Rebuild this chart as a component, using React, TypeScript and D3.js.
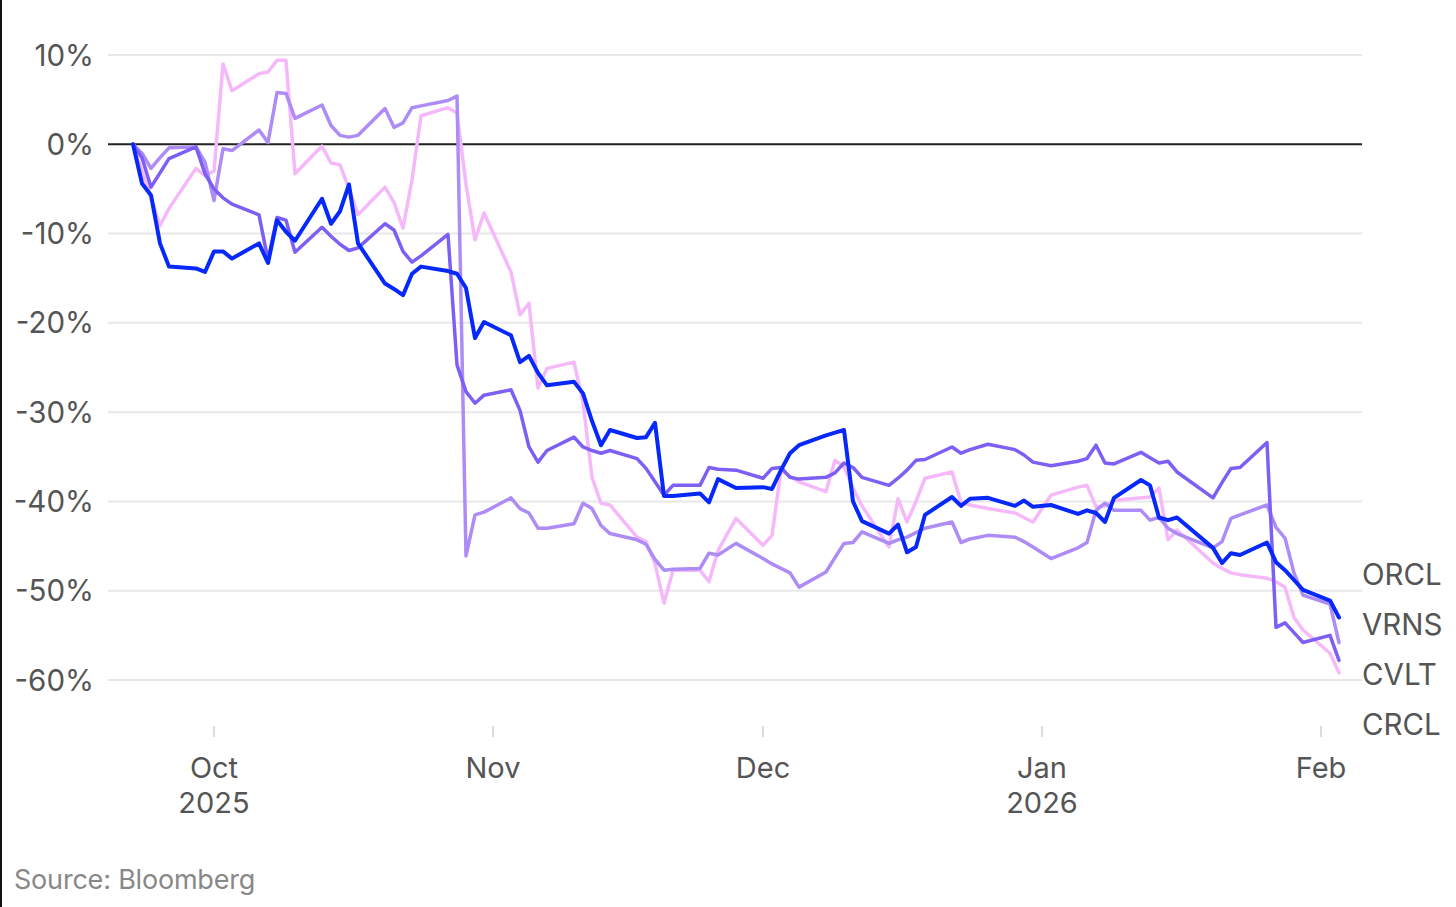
import React from "react";
import * as d3 from "d3";

const dates: string[] = [
  "2025-09-22","2025-09-23","2025-09-24","2025-09-25","2025-09-26","2025-09-29","2025-09-30",
  "2025-10-01","2025-10-02","2025-10-03","2025-10-06","2025-10-07","2025-10-08","2025-10-09","2025-10-10",
  "2025-10-13","2025-10-14","2025-10-15","2025-10-16","2025-10-17","2025-10-20","2025-10-21","2025-10-22",
  "2025-10-23","2025-10-24","2025-10-27","2025-10-28","2025-10-29","2025-10-30","2025-10-31",
  "2025-11-03","2025-11-04","2025-11-05","2025-11-06","2025-11-07","2025-11-10","2025-11-11","2025-11-12",
  "2025-11-13","2025-11-14","2025-11-17","2025-11-18","2025-11-19","2025-11-20","2025-11-21","2025-11-24",
  "2025-11-25","2025-11-26","2025-11-28",
  "2025-12-01","2025-12-02","2025-12-03","2025-12-04","2025-12-05","2025-12-08","2025-12-09","2025-12-10",
  "2025-12-11","2025-12-12","2025-12-15","2025-12-16","2025-12-17","2025-12-18","2025-12-19","2025-12-22",
  "2025-12-23","2025-12-24","2025-12-26","2025-12-29","2025-12-30","2025-12-31",
  "2026-01-02","2026-01-05","2026-01-06","2026-01-07","2026-01-08","2026-01-09","2026-01-12","2026-01-13",
  "2026-01-14","2026-01-15","2026-01-16","2026-01-20","2026-01-21","2026-01-22","2026-01-23","2026-01-26",
  "2026-01-27","2026-01-28","2026-01-29","2026-01-30",
  "2026-02-02","2026-02-03",
];

const orcl: number[] = [
  0, -4.4, -5.7, -11.1, -13.7, -13.9, -14.3,
  -12, -12, -12.8, -11.1, -13.3, -8.5, -9.8, -10.8,
  -6.1, -8.9, -7.5, -4.5, -11.1, -15.6, -16.2, -16.9,
  -14.5, -13.7, -14.2, -14.5, -16.1, -21.7, -19.9,
  -21.4, -24.4, -23.7, -25.6, -27.0, -26.6, -27.9, -31,
  -33.7, -32.0, -32.9, -32.8, -31.2, -39.4, -39.4, -39.1,
  -40.1, -37.5, -38.5,
  -38.4, -38.6, -36.5, -34.6, -33.7, -32.6, -32.3, -32.0,
  -40.0, -42.2, -43.6, -42.6, -45.7, -45.1, -41.5, -39.5,
  -40.5, -39.7, -39.6, -40.5, -39.9, -40.6,
  -40.4, -41.4, -41.0, -41.3, -42.3, -39.6, -37.6, -38.2,
  -41.8, -42.1, -41.8, -45.2, -46.9, -45.8, -46.0, -44.6,
  -46.8, -47.7, -48.8, -49.9,
  -51.1, -53.0,
];

const cvlt: number[] = [
  0, -1.5, -4.8, -3.2, -1.6, -0.3, -3.3,
  -5, -6, -6.7, -7.9, -13, -8.2, -8.5, -12.1,
  -9.3, -10.3, -11.2, -11.9, -11.6, -8.9, -9.6, -12,
  -13.2, -12.5, -10.1, -24.7, -27.7, -29, -28.1,
  -27.5, -29.8, -33.9, -35.6, -34.3, -32.8, -33.9, -34.3,
  -34.6, -34.3, -35.2, -36.3, -37.8, -39.3, -38.2, -38.2,
  -36.2, -36.4, -36.5,
  -37.4, -36.3, -36.2, -37.3, -37.5, -37.3, -36.8, -35.7,
  -36.2, -37.3, -38.2, -37.4, -36.5, -35.4, -35.3, -33.9,
  -34.6, -34.2, -33.6, -34.2, -34.8, -35.6,
  -36, -35.5, -35.2, -33.7, -35.7, -35.8, -34.5, -35.1,
  -35.7, -35.5, -36.7, -39.6, -37.9, -36.3, -36.2, -33.4,
  -54.1, -53.6, -54.7, -55.8,
  -55.0, -57.8,
];

const vrns: number[] = [
  0, -1, -2.7, -1.5, -0.4, -0.3, -2,
  -6.3, -0.5, -0.7, 1.6, 0.2, 5.8, 5.7, 2.9,
  4.4, 2.1, 1.0, 0.8, 1.0, 4.0, 1.9, 2.4,
  4.1, 4.3, 4.9, 5.4, -46.1, -41.5, -41.2,
  -39.6, -40.8, -41.3, -43.0, -43.0, -42.5, -40.2, -40.8,
  -42.7, -43.6, -44.3, -44.8, -46.5, -47.7, -47.6, -47.5,
  -45.8, -46.0, -44.7,
  -46.4, -47, -47.5, -48, -49.6, -47.9, -46.3, -44.7,
  -44.6, -43.4, -44.7, -44.3, -44.0, -43.5, -43.0, -42.3,
  -44.6, -44.2, -43.8, -44.0, -44.5, -45.1,
  -46.4, -45.2, -44.6, -41.0, -40.2, -41.0, -41.0, -42.1,
  -41.8, -43.0, -43.6, -45.2, -44.5, -41.9, -41.5, -40.4,
  -42.9, -44.1, -48.0, -50.5,
  -51.5, -55.8,
];

const crcl: number[] = [
  0, -3, -6, -9.1, -7.2, -2.7, -3.5,
  -3, 9.0, 6.0, 7.9, 8.1, 9.4, 9.4, -3.3,
  -0.2, -2.1, -2.3, -5, -7.9, -4.8, -6.5, -9.4,
  -4, 3.2, 4.1, 3.5, -4.5, -10.7, -7.7,
  -14.3, -19.1, -17.8, -27.3, -25.1, -24.4, -28.9, -37.3,
  -40.2, -40.4, -44.0, -44.5, -47, -51.4, -47.7, -47.7,
  -49.0, -45.5, -41.9,
  -44.9, -43.8, -36.5, -37.2, -37.8, -38.9, -35.4, -36.1,
  -38.5, -40.5, -45.1, -39.7, -42.3, -40.0, -37.4, -36.7,
  -40.1, -40.4, -40.8, -41.3, -41.8, -42.3,
  -39.3, -38.4, -38.2, -40.6, -40.5, -39.9, -39.6, -39.5,
  -38.5, -44.3, -43.2, -46.9, -47.5, -48.0, -48.2, -48.6,
  -49.0, -49.6, -53.0, -54.4,
  -57.0, -59.2,
];

const seriesNames: string[] = ["CRCL", "VRNS", "CVLT", "ORCL"];
const seriesValues: number[][] = [crcl, vrns, cvlt, orcl];
const seriesColors: string[] = ["#f5b9fb", "#ae8cf6", "#7d5ff5", "#0628fb"];
const seriesWidths: number[] = [3.5, 3.5, 3.5, 4];

const labelOrder: string[] = ["ORCL", "VRNS", "CVLT", "CRCL"];
const yTicks: number[] = [10, 0, -10, -20, -30, -40, -50, -60];
const monthTicks: { date: string; line1: string; line2: string }[] = [
  { date: "2025-10-01", line1: "Oct", line2: "2025" },
  { date: "2025-11-01", line1: "Nov", line2: "" },
  { date: "2025-12-01", line1: "Dec", line2: "" },
  { date: "2026-01-01", line1: "Jan", line2: "2026" },
  { date: "2026-02-01", line1: "Feb", line2: "" },
];

const parse = d3.timeParse("%Y-%m-%d");
const FONT = "Inter, 'Noto Sans', sans-serif";

export default function App() {
  const W = 1456;
  const H = 907;
  const x = d3
    .scaleTime()
    .domain([parse("2025-09-22") as Date, parse("2026-02-03") as Date])
    .range([133, 1339]);
  const y = d3.scaleLinear().domain([-60, 10]).range([680, 55]);
  const gridX0 = 108;
  const gridX1 = 1362;

  const line = d3
    .line<[Date, number]>()
    .x((d) => x(d[0]))
    .y((d) => y(d[1]))
    .curve(d3.curveLinear);

  const parsedDates = dates.map((d) => parse(d) as Date);

  return (
    <svg
      width={W}
      height={H}
      style={{ position: "absolute", left: 0, top: 0, background: "#fff" }}
      fontFamily={FONT}
    >
      <rect x={0} y={0} width={W} height={H} fill="#fff" />
      <rect x={0} y={0} width={2} height={H} fill="#111" />
      {yTicks.map((t) => (
        <g key={t}>
          {t !== 0 && (
            <line
              x1={gridX0}
              x2={gridX1}
              y1={y(t)}
              y2={y(t)}
              stroke="#e8e8e8"
              strokeWidth={2}
            />
          )}
          <text
            x={94}
            y={y(t)}
            dy="0.36em"
            textAnchor="end"
            fontSize={29.5}
            fill="#555"
          >
            {`${t}%`}
          </text>
        </g>
      ))}
      {monthTicks.map((m) => {
        const xx = x(parse(m.date) as Date);
        return (
          <g key={m.date}>
            <line x1={xx} x2={xx} y1={726} y2={737} stroke="#d0d0d0" strokeWidth={1.5} />
            <text x={xx} y={778} textAnchor="middle" fontSize={29} fill="#555">
              {m.line1}
            </text>
            {m.line2 && (
              <text x={xx} y={813} textAnchor="middle" fontSize={29} fill="#555">
                {m.line2}
              </text>
            )}
          </g>
        );
      })}
      <line x1={gridX0} x2={gridX1} y1={y(0)} y2={y(0)} stroke="#222" strokeWidth={2} />
      {seriesValues.map((vals, i) => {
        const pts: [Date, number][] = vals.map((v, j) => [parsedDates[j], v]);
        return (
          <path
            key={seriesNames[i]}
            d={line(pts) || ""}
            fill="none"
            stroke={seriesColors[i]}
            strokeWidth={seriesWidths[i]}
            strokeLinejoin="round"
            strokeLinecap="round"
          />
        );
      })}
      {labelOrder.map((name, i) => (
        <text
          key={name}
          x={1362}
          y={585 + i * 50}
          fontSize={29.5}
          fill="#555"
        >
          {name}
        </text>
      ))}
      <text x={14} y={889} fontSize={27} fill="#888" letterSpacing={-0.2}>
        Source: Bloomberg
      </text>
    </svg>
  );
}
